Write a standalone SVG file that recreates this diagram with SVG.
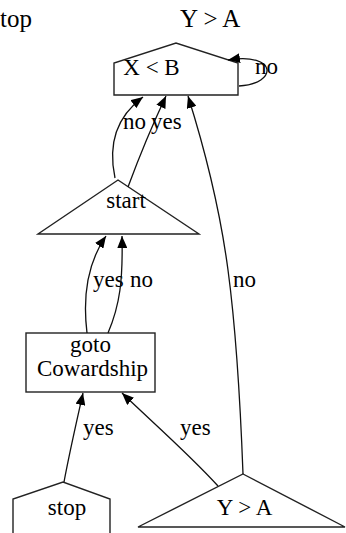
<svg xmlns="http://www.w3.org/2000/svg" width="346" height="533" viewBox="0 0 346 533">
<style>
text{font-family:"Liberation Serif","Times New Roman","DejaVu Serif",serif;fill:#000}
.lbl{font-size:23px}
.big{font-size:25px}
.node{fill:#fff;stroke:#222;stroke-width:1.4}
.edge{fill:none;stroke:#111;stroke-width:1.3}
</style>
<defs>
<marker id="ah" viewBox="0 0 12 10" refX="12" refY="5" markerWidth="12" markerHeight="10" markerUnits="userSpaceOnUse" orient="auto">
<path d="M0,0 L12,5 L0,10 z" fill="#000"/>
</marker>
</defs>
<rect width="346" height="533" fill="#fff"/>
<text class="big" x="0" y="27">top</text>
<text class="big" x="180" y="27">Y &gt; A</text>

<g id="n_xb">
<polygon class="node" points="114,95 114,63 176,43 238,63 238,95"/>
<text class="lbl" x="151.5" y="75" text-anchor="middle">X &lt; B</text>
</g>
<g id="n_start">
<polygon class="node" points="118,180 199,234 38,234"/>
<text class="lbl" x="126" y="208" text-anchor="middle">start</text>
</g>
<g id="n_goto">
<rect class="node" x="26" y="333" width="129" height="59"/>
<text class="lbl" x="90.5" y="352" text-anchor="middle">goto</text>
<text class="lbl" x="92.5" y="376" text-anchor="middle">Cowardship</text>
</g>
<g id="n_stop">
<polygon class="node" points="13,540 13,499 63,482 110,499 110,540"/>
<text class="lbl" x="67" y="515" text-anchor="middle">stop</text>
</g>
<g id="n_ya">
<polygon class="node" points="243,474 345,527 138,527"/>
<text class="lbl" x="244.5" y="515" text-anchor="middle">Y &gt; A</text>
</g>

<g id="edges">
<path class="edge" marker-end="url(#ah)" d="M64,482 C70,450 77,420 83,393"/>
<text class="lbl" x="83" y="435">yes</text>
<path class="edge" marker-end="url(#ah)" d="M218,486 C190,455 150,420 122,393"/>
<text class="lbl" x="180" y="435">yes</text>
<path class="edge" marker-end="url(#ah)" d="M243,474 C241,420 236,330 228,270 C220,210 205,150 188,96"/>
<text class="lbl" x="233" y="287">no</text>
<path class="edge" marker-end="url(#ah)" d="M87,333 C83,300 86,265 106,236"/>
<text class="lbl" x="93" y="287">yes</text>
<path class="edge" marker-end="url(#ah)" d="M108,333 C120,305 123,280 122,236"/>
<text class="lbl" x="130" y="287">no</text>
<path class="edge" marker-end="url(#ah)" d="M115,178 C109,150 112,120 143,97"/>
<text class="lbl" x="123" y="129">no</text>
<path class="edge" marker-end="url(#ah)" d="M128,187 C138,160 150,130 166,96"/>
<text class="lbl" x="151" y="129">yes</text>
<path class="edge" marker-end="url(#ah)" d="M239,86 C278,84 278,52 228,60"/>
<text class="lbl" x="255" y="74">no</text>
</g>
</svg>
